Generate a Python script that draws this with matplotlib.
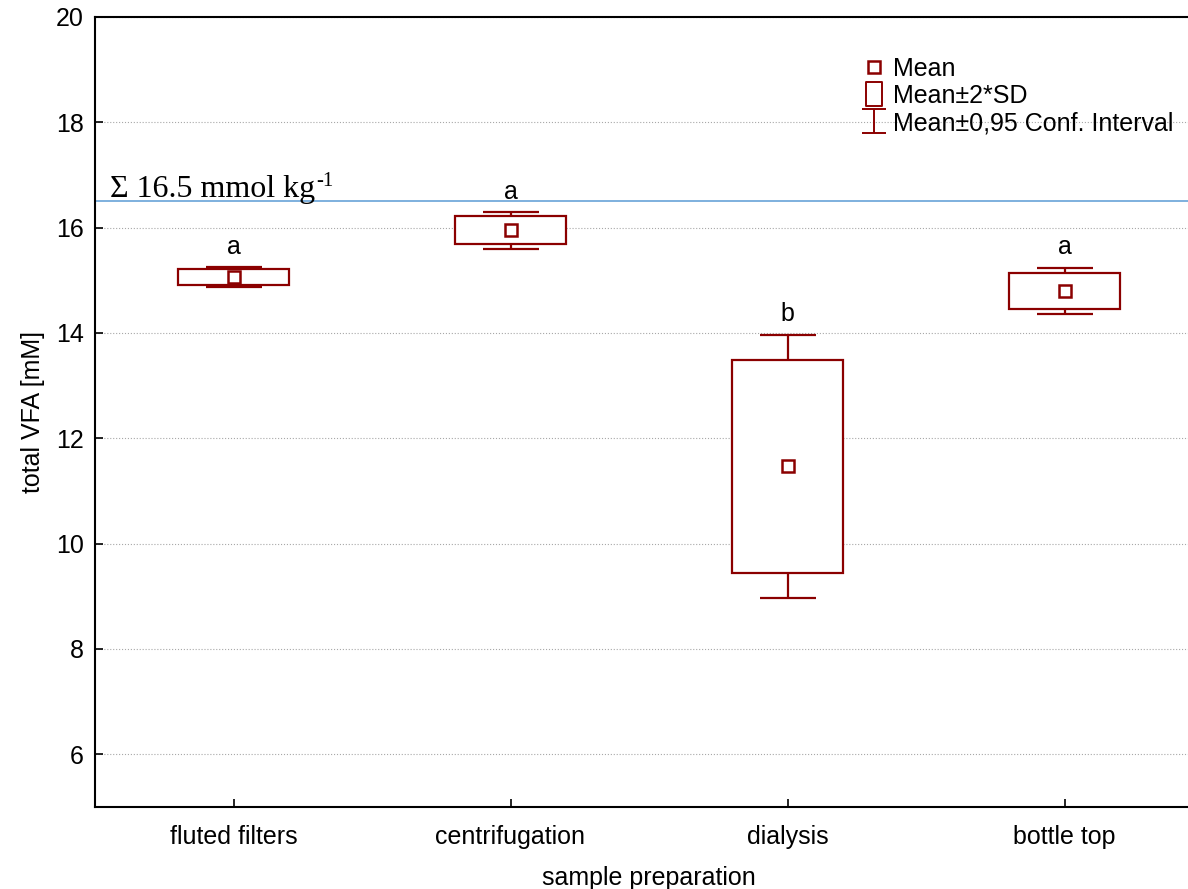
import matplotlib
matplotlib.use("Agg")
import matplotlib.pyplot as plt
from matplotlib.lines import Line2D
from matplotlib.path import Path

plt.rcParams['font.family'] = ['Liberation Sans', 'DejaVu Sans']

# ---- data ----
categories = ['fluted filters', 'centrifugation', 'dialysis', 'bottle top']
means = [15.055, 15.95, 11.47, 14.79]
sd2_lo = [14.91, 15.69, 9.44, 14.45]
sd2_hi = [15.21, 16.225, 13.48, 15.14]
ci_lo = [14.865, 15.59, 8.96, 14.36]
ci_hi = [15.245, 16.29, 13.97, 15.24]
letters = ['a', 'a', 'b', 'a']
ref_value = 16.5
ref_label = 'Σ 16.5 mmol kg'
ref_sup = '-1'
y_ticks = [6, 8, 10, 12, 14, 16, 18, 20]

RED = '#8B0000'
W, H = 1188, 889
fig = plt.figure(figsize=(W / 100, H / 100), dpi=100)
ax = fig.add_axes([95 / W, (H - 807) / H, 1108 / W, 790 / H])

x = list(range(len(categories)))

# confidence interval whiskers
err_lo = [m - l for m, l in zip(means, ci_lo)]
err_hi = [h - m for m, h in zip(means, ci_hi)]
ax.errorbar(x, means, yerr=[err_lo, err_hi], fmt='none', ecolor=RED,
            elinewidth=1.6, capsize=20, capthick=1.6, zorder=3)
# mean +- 2SD boxes
ax.bar(x, [h - l for h, l in zip(sd2_hi, sd2_lo)], bottom=sd2_lo, width=0.4,
       facecolor='white', edgecolor=RED, linewidth=1.6, zorder=4)
# means
ax.plot(x, means, ls='none', marker='s', ms=9, mfc='white', mec=RED, mew=1.8, zorder=5)

# significance letters
for xi, top, lab in zip(x, ci_hi, letters):
    ax.annotate(lab, (xi, top), xytext=(0, 6), textcoords='offset points',
                ha='center', va='bottom', fontsize=18)

# reference line
ax.axhline(ref_value, color='#5b9bd5', lw=1.1, zorder=2)
t = ax.annotate(ref_label, (-0.445, ref_value), xytext=(0, 3), textcoords='offset points',
                ha='left', va='baseline', fontsize=23, family='Liberation Serif')
ax.annotate(ref_sup, xy=(1, 1), xycoords=t, xytext=(1, 2), textcoords='offset points',
            ha='left', va='top', fontsize=15, family='Liberation Serif')

ax.set_xlim(-0.5, 3.5)
ax.set_ylim(5, 20)
ax.set_yticks(y_ticks)
ax.set_xticks(x)
ax.set_xticklabels(categories)
ax.tick_params(axis='both', direction='in', length=6, width=1.2, labelsize=18, pad=8)
ax.tick_params(axis='x', pad=13)
ax.grid(axis='y', ls=':', color='#a8a8a8', lw=0.8, zorder=0)
ax.set_axisbelow(True)
for s in ['left', 'bottom', 'top']:
    ax.spines[s].set_linewidth(1.5)
ax.spines['right'].set_visible(False)

ax.set_xlabel('sample preparation', fontsize=18, labelpad=12)
ax.set_ylabel('total VFA [mM]', fontsize=18, labelpad=8)

# legend
ibeam = Path([(-1, 1), (1, 1), (0, 1), (0, -1), (-1, -1), (1, -1)],
             [Path.MOVETO, Path.LINETO, Path.MOVETO, Path.LINETO, Path.MOVETO, Path.LINETO])
rect = Path([(-0.65, -1), (0.65, -1), (0.65, 1), (-0.65, 1), (-0.65, -1)],
            [Path.MOVETO, Path.LINETO, Path.LINETO, Path.LINETO, Path.CLOSEPOLY])
handles = [
    Line2D([], [], ls='none', marker='s', ms=9, mfc='white', mec=RED, mew=1.8),
    Line2D([], [], ls='none', marker=rect, ms=17, mfc='white', mec=RED, mew=1.4),
    Line2D([], [], ls='none', marker=ibeam, ms=17, mfc='none', mec=RED, mew=1.4),
]
ax.legend(handles, ['Mean', 'Mean±2*SD', 'Mean±0,95 Conf. Interval'],
          loc='upper left', bbox_to_anchor=(0.683, 0.962), frameon=False,
          fontsize=18, handlelength=1.0, handletextpad=0.25, labelspacing=0.12,
          borderaxespad=0)

fig.savefig('out.png', dpi=100)
